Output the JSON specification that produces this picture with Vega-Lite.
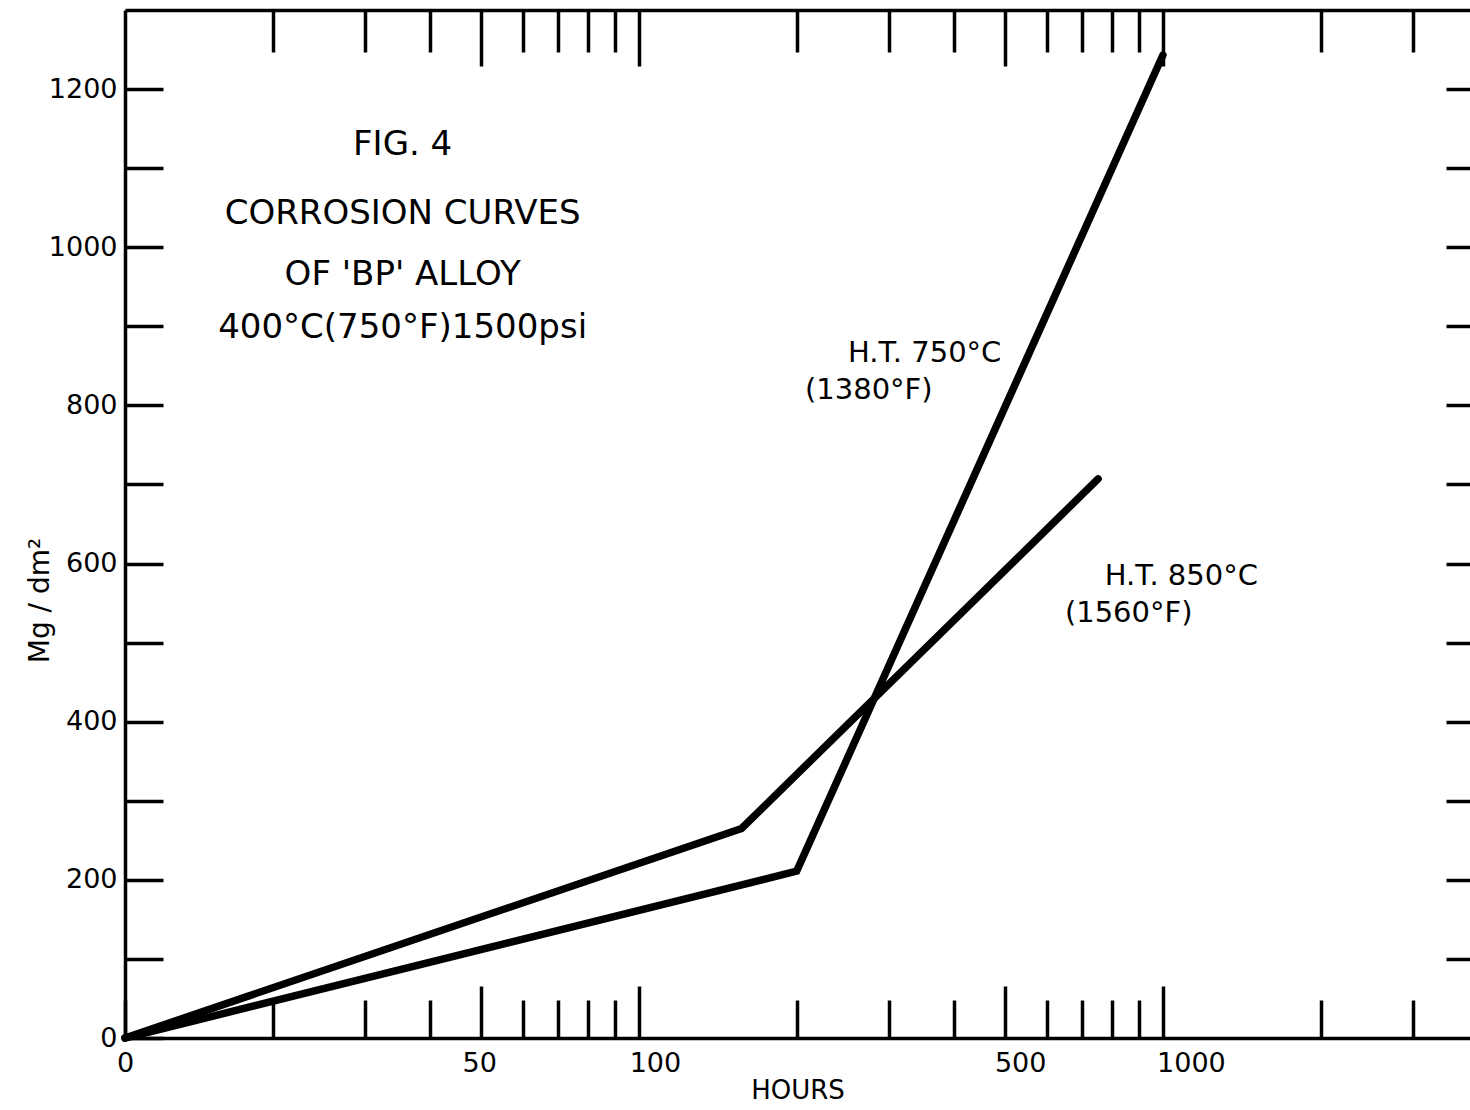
{
  "$schema": "https://vega.github.io/schema/vega-lite/v6.json",
  "autosize": {"type": "none"},
  "padding": {"left": 125, "top": 10, "right": 0, "bottom": 72},
  "width": 1345,
  "height": 1028,
  "background": "white",
  "config": {
    "view": {"stroke": null},
    "axis": {"domainColor": "black", "tickColor": "black", "labelColor": "black", "titleColor": "black", "grid": false, "domainWidth": 3.5, "tickWidth": 3.5, "labelFont": "DejaVu Sans", "titleFont": "DejaVu Sans"}
  },
  "datasets": {
    "curves": [
      {"series": "H.T. 850°C", "hours": 10.45, "mg": 0},
      {"series": "H.T. 850°C", "hours": 157, "mg": 265},
      {"series": "H.T. 850°C", "hours": 752, "mg": 707},
      {"series": "H.T. 750°C", "hours": 10.45, "mg": 0},
      {"series": "H.T. 750°C", "hours": 200, "mg": 211},
      {"series": "H.T. 750°C", "hours": 1000, "mg": 1243}
    ],
    "titleblock": [
      {"text": "FIG. 4", "hours": 35.4, "mg": 1129},
      {"text": "CORROSION  CURVES", "hours": 35.4, "mg": 1042},
      {"text": "OF 'BP' ALLOY", "hours": 35.4, "mg": 965},
      {"text": "400°C(750°F)1500psi", "hours": 35.4, "mg": 898}
    ],
    "curvelabels": [
      {"text": "H.T. 750°C", "hours": 250.6, "mg": 866},
      {"text": "(1380°F)", "hours": 207.4, "mg": 820},
      {"text": "H.T. 850°C", "hours": 774, "mg": 584},
      {"text": "(1560°F)", "hours": 650, "mg": 538}
    ]
  },
  "resolve": {"axis": {"x": "independent", "y": "independent"}},
  "layer": [
    {
      "data": {"name": "curves"},
      "mark": {"type": "line", "strokeWidth": 7.5, "strokeCap": "round", "strokeJoin": "miter", "color": "black"},
      "encoding": {
        "x": {
          "field": "hours", "type": "quantitative",
          "scale": {"type": "log", "domain": [10.45, 3855], "nice": false, "zero": false},
          "axis": {
            "orient": "bottom",
            "values": [10.45, 20, 30, 40, 50, 60, 70, 80, 90, 100, 200, 300, 400, 500, 600, 700, 800, 900, 1000, 2000, 3000],
            "labelExpr": "datum.value < 11 ? '0' : (indexof([50,100,500,1000], datum.value) >= 0 ? format(datum.value, 'd') : '')",
            "tickSize": {"condition": {"test": "indexof([50,100,500,1000], datum.value) >= 0", "value": -52}, "value": -38},
            "labelPadding": {"condition": {"test": "indexof([50,100,500,1000], datum.value) >= 0", "value": 64}, "value": 50},
            "labelOffset": {"expr": "datum.value == 100 ? 16 : datum.value == 500 ? 15 : datum.value == 1000 ? 28 : datum.value == 50 ? -2 : 0"},
            "labelFontSize": 27,
            "labelFlush": false,
            "labelOverlap": false,
            "title": "HOURS",
            "titleFontSize": 26,
            "titleFontWeight": "normal",
            "titlePadding": 1
          }
        },
        "y": {
          "field": "mg", "type": "quantitative",
          "scale": {"domain": [0, 1300], "nice": false},
          "axis": {
            "orient": "left",
            "values": [0, 100, 200, 300, 400, 500, 600, 700, 800, 900, 1000, 1100, 1200],
            "labelExpr": "datum.value % 200 == 0 ? format(datum.value, 'd') : ''",
            "tickSize": -38,
            "labelPadding": 46,
            "labelFontSize": 27,
            "labelOverlap": false,
            "labelFlush": false,
            "title": "Mg / dm²",
            "titleFontSize": 28,
            "titleFontWeight": "normal",
            "titleX": -85,
            "titleY": 590,
            "titleAngle": -90,
            "titleBaseline": "middle",
            "titleAlign": "center"
          }
        },
        "detail": {"field": "series", "type": "nominal"}
      }
    },
    {
      "data": {"name": "titleblock"},
      "mark": {"type": "text", "font": "DejaVu Sans", "fontSize": 34, "align": "center", "baseline": "middle", "color": "black"},
      "encoding": {
        "x": {
          "field": "hours", "type": "quantitative",
          "scale": {"type": "log", "domain": [10.45, 3855], "nice": false, "zero": false},
          "axis": {
            "orient": "top",
            "values": [20, 30, 40, 50, 60, 70, 80, 90, 100, 200, 300, 400, 500, 600, 700, 800, 900, 1000, 2000, 3000],
            "labels": false,
            "tickSize": {"condition": {"test": "indexof([50,100,500,1000], datum.value) >= 0", "value": -56}, "value": -42},
            "title": null
          }
        },
        "y": {
          "field": "mg", "type": "quantitative",
          "scale": {"domain": [0, 1300], "nice": false},
          "axis": {
            "orient": "right",
            "values": [100, 200, 300, 400, 500, 600, 700, 800, 900, 1000, 1100, 1200],
            "labels": false,
            "domain": false,
            "tickSize": -24,
            "title": null
          }
        },
        "text": {"field": "text", "type": "nominal"}
      }
    },
    {
      "data": {"name": "curvelabels"},
      "mark": {"type": "text", "font": "DejaVu Sans", "fontSize": 29, "align": "left", "baseline": "middle", "color": "black"},
      "encoding": {
        "x": {"field": "hours", "type": "quantitative", "scale": {"type": "log", "domain": [10.45, 3855], "nice": false, "zero": false}, "axis": null},
        "y": {"field": "mg", "type": "quantitative", "scale": {"domain": [0, 1300], "nice": false}, "axis": null},
        "text": {"field": "text", "type": "nominal"}
      }
    }
  ]
}
